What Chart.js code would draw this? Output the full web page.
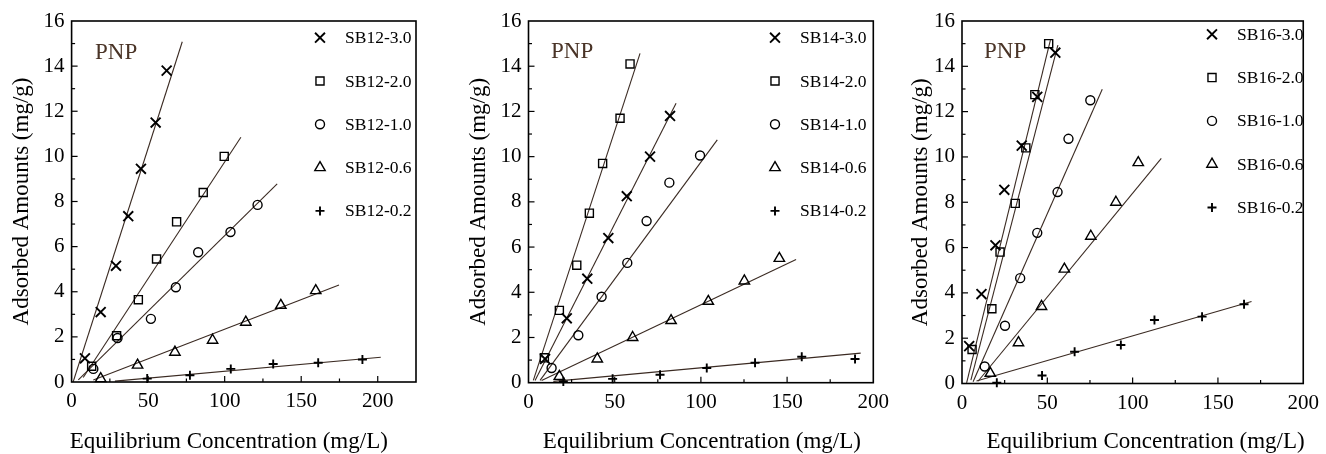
<!DOCTYPE html>
<html><head><meta charset="utf-8">
<script src="https://cdn.jsdelivr.net/npm/chart.js@4.4.1/dist/chart.umd.min.js"></script>
<style>
html,body{margin:0;padding:0;background:#fff;width:1326px;height:454px;overflow:hidden}
canvas{position:absolute;top:0}
</style></head><body>
<canvas id="c1" width="450" height="454" style="left:0px"></canvas>
<canvas id="c2" width="450" height="454" style="left:450px"></canvas>
<canvas id="c3" width="426" height="454" style="left:900px"></canvas>
<script>
// ---------- tick labels ----------
const xTicks = [0, 50, 100, 150, 200];
const yTicks = [0, 2, 4, 6, 8, 10, 12, 14, 16];
const xTitle = 'Equilibrium Concentration (mg/L)';
const yTitle = 'Adsorbed Amounts (mg/g)';
const tag = 'PNP';

// ---------- panel 1 (SB12) ----------
const SB12_labels = ['SB12-3.0', 'SB12-2.0', 'SB12-1.0', 'SB12-0.6', 'SB12-0.2'];
const SB12_30_x = [8.7, 19.0, 29.0, 37.0, 45.3, 54.9, 62.1];
const SB12_30_y = [1.05, 3.1, 5.15, 7.35, 9.45, 11.5, 13.8];
const SB12_20_x = [13.1, 29.4, 43.6, 55.5, 68.6, 86.0, 99.7];
const SB12_20_y = [0.7, 2.05, 3.65, 5.45, 7.1, 8.4, 10.0];
const SB12_10_x = [14.2, 30.0, 51.8, 68.1, 82.7, 103.8, 121.5];
const SB12_10_y = [0.58, 1.95, 2.8, 4.2, 5.75, 6.65, 7.85];
const SB12_06_x = [19.0, 43.1, 67.5, 92.1, 113.8, 136.7, 159.5];
const SB12_06_y = [0.15, 0.75, 1.32, 1.85, 2.65, 3.4, 4.05];
const SB12_02_x = [49.4, 77.3, 104.0, 131.7, 161.1, 190.0];
const SB12_02_y = [0.15, 0.3, 0.58, 0.8, 0.85, 1.0];
// fitted lines (end points)
const L12_30_x = [1.0, 72.3],   L12_30_y = [0.0, 15.08];
const L12_20_x = [7.6, 110.6],  L12_20_y = [0.2, 10.85];
const L12_10_x = [4.4, 134.3],  L12_10_y = [0.09, 8.78];
const L12_06_x = [14.2, 174.7], L12_06_y = [0.09, 4.3];
const L12_02_x = [28.3, 202.0], L12_02_y = [0.04, 1.1];

// ---------- panel 2 (SB14) ----------
const SB14_labels = ['SB14-3.0', 'SB14-2.0', 'SB14-1.0', 'SB14-0.6', 'SB14-0.2'];
const SB14_30_x = [9.6, 22.2, 34.1, 46.3, 57.0, 70.5, 82.1];
const SB14_30_y = [1.05, 2.85, 4.6, 6.4, 8.25, 10.0, 11.8];
const SB14_20_x = [9.2, 17.9, 28.0, 35.3, 43.0, 53.1, 58.9];
const SB14_20_y = [1.1, 3.2, 5.2, 7.5, 9.7, 11.7, 14.1];
const SB14_10_x = [13.4, 28.9, 42.4, 57.3, 68.5, 81.7, 99.5];
const SB14_10_y = [0.65, 2.1, 3.8, 5.3, 7.15, 8.85, 10.05];
const SB14_06_x = [17.9, 39.9, 60.4, 82.7, 104.3, 125.2, 145.5];
const SB14_06_y = [0.28, 1.05, 2.0, 2.75, 3.6, 4.5, 5.5];
const SB14_02_x = [20.2, 48.8, 76.3, 103.4, 131.4, 158.5, 189.4];
const SB14_02_y = [0.05, 0.17, 0.35, 0.65, 0.88, 1.15, 1.05];
const L14_30_x = [3.8, 85.6],   L14_30_y = [0.1, 12.36];
const L14_20_x = [2.8, 64.7],   L14_20_y = [0.1, 14.57];
const L14_10_x = [6.7, 109.5],  L14_10_y = [0.1, 10.74];
const L14_06_x = [7.6, 155.2],  L14_06_y = [0.1, 5.45];
const L14_02_x = [14.4, 192.7], L14_02_y = [0.06, 1.31];

// ---------- panel 3 (SB16) ----------
const SB16_labels = ['SB16-3.0', 'SB16-2.0', 'SB16-1.0', 'SB16-0.6', 'SB16-0.2'];
const SB16_30_x = [4.2, 11.4, 19.6, 24.8, 35.0, 44.1, 54.7];
const SB16_30_y = [1.65, 3.95, 6.1, 8.55, 10.5, 12.65, 14.6];
const SB16_20_x = [5.9, 17.5, 22.3, 31.2, 37.4, 42.7, 50.8];
const SB16_20_y = [1.5, 3.3, 5.8, 7.95, 10.4, 12.75, 15.0];
const SB16_10_x = [13.3, 25.2, 34.1, 44.1, 56.0, 62.4, 75.2];
const SB16_10_y = [0.75, 2.55, 4.65, 6.65, 8.45, 10.8, 12.5];
const SB16_06_x = [16.6, 33.1, 46.6, 60.0, 75.5, 90.2, 103.3];
const SB16_06_y = [0.45, 1.8, 3.4, 5.05, 6.5, 8.0, 9.75];
const SB16_02_x = [20.4, 46.9, 66.0, 93.1, 112.8, 140.7, 165.3];
const SB16_02_y = [0.03, 0.35, 1.4, 1.7, 2.8, 2.95, 3.5];
const L16_30_x = [5.2, 56.2],   L16_30_y = [0.15, 14.94];
const L16_20_x = [2.7, 51.8],   L16_20_y = [0.03, 15.16];
const L16_10_x = [6.5, 82.2],   L16_10_y = [0.08, 12.99];
const L16_06_x = [9.4, 116.8],  L16_06_y = [0.1, 9.94];
const L16_02_x = [8.5, 169.7],  L16_02_y = [0.11, 3.62];

// ---------- styling ----------
const FONT = "'Liberation Serif', 'Times New Roman', Times, serif";
const LINE_COLOR = '#3a2a22';
const MARKERS = [
  {pointStyle: 'crossRot', radius: 7,   borderWidth: 1.9},
  {pointStyle: 'rect',     radius: 5.7, borderWidth: 1.4},
  {pointStyle: 'circle',   radius: 4.5, borderWidth: 1.4},
  {pointStyle: 'triangle', radius: 6,   borderWidth: 1.4},
  {pointStyle: 'cross',    radius: 4.5, borderWidth: 1.9}
];

const zip = (xs, ys) => xs.map((v, i) => ({x: v, y: ys[i]}));

const panels = [
  {id: 'c1', xMax: 225, labels: SB12_labels,
   series: [[SB12_30_x, SB12_30_y], [SB12_20_x, SB12_20_y], [SB12_10_x, SB12_10_y], [SB12_06_x, SB12_06_y], [SB12_02_x, SB12_02_y]],
   lines: [[L12_30_x, L12_30_y], [L12_20_x, L12_20_y], [L12_10_x, L12_10_y], [L12_06_x, L12_06_y], [L12_02_x, L12_02_y]],
   lay: {yW: 71.6, R: 34, xH: 72, titlePad: 8, xShift: -15, legDx: 248.4, legY0: 37.7, pnpDx: 23.4, pnpY: 59}},
  {id: 'c2', xMax: 200, labels: SB14_labels,
   series: [[SB14_30_x, SB14_30_y], [SB14_20_x, SB14_20_y], [SB14_10_x, SB14_10_y], [SB14_06_x, SB14_06_y], [SB14_02_x, SB14_02_y]],
   lines: [[L14_30_x, L14_30_y], [L14_20_x, L14_20_y], [L14_10_x, L14_10_y], [L14_06_x, L14_06_y], [L14_02_x, L14_02_y]],
   lay: {yW: 78.5, R: 26.7, xH: 71.3, titlePad: 15, xShift: 1, legDx: 246.5, legY0: 37.7, pnpDx: 22.5, pnpY: 58}},
  {id: 'c3', xMax: 200, labels: SB16_labels,
   series: [[SB16_30_x, SB16_30_y], [SB16_20_x, SB16_20_y], [SB16_10_x, SB16_10_y], [SB16_06_x, SB16_06_y], [SB16_02_x, SB16_02_y]],
   lines: [[L16_30_x, L16_30_y], [L16_20_x, L16_20_y], [L16_10_x, L16_10_y], [L16_06_x, L16_06_y], [L16_02_x, L16_02_y]],
   lay: {yW: 62, R: 18, xH: 70.5, titlePad: 7, xShift: 13, legDx: 250, legY0: 34.3, pnpDx: 22, pnpY: 57.7}}
];

function drawMarker(ctx, m, x, y) {
  ctx.save();
  ctx.strokeStyle = '#000';
  ctx.fillStyle = 'rgba(0,0,0,0)';
  ctx.lineWidth = m.borderWidth;
  if (Chart.helpers && Chart.helpers.drawPoint) {
    Chart.helpers.drawPoint(ctx, {pointStyle: m.pointStyle, radius: m.radius, rotation: 0, borderWidth: m.borderWidth}, x, y);
  } else {
    ctx.beginPath(); ctx.arc(x, y, m.radius, 0, Math.PI * 2); ctx.stroke();
  }
  ctx.restore();
}

const framePlugin = {
  id: 'frame',
  afterDraw(chart) {
    const p = chart.config.options.plugins.frame;
    const {ctx, chartArea: a, scales: {x, y}} = chart;
    ctx.save();
    ctx.strokeStyle = '#000';
    ctx.lineWidth = 1.6;
    ctx.strokeRect(a.left, a.top, a.right - a.left, a.bottom - a.top);
    ctx.lineWidth = 1.2;
    // x ticks (inward): major every 50, minor every 25
    for (let v = 25; v < x.max - 0.5; v += 25) {
      const px = x.getPixelForValue(v);
      const len = (v % 50 === 0) ? 6 : 3.5;
      ctx.beginPath(); ctx.moveTo(px, a.bottom); ctx.lineTo(px, a.bottom - len); ctx.stroke();
    }
    // y ticks (inward): major every 2, minor every 1
    for (let v = 1; v < y.max; v += 1) {
      const py = y.getPixelForValue(v);
      const len = (v % 2 === 0) ? 6 : 3.5;
      ctx.beginPath(); ctx.moveTo(a.left, py); ctx.lineTo(a.left + len, py); ctx.stroke();
    }
    // PNP tag
    ctx.fillStyle = '#4a3427';
    ctx.font = '23px ' + FONT;
    ctx.textAlign = 'left';
    ctx.textBaseline = 'alphabetic';
    ctx.fillText(tag, a.left + p.pnpDx, p.pnpY);
    // legend
    ctx.font = '17.5px ' + FONT;
    ctx.fillStyle = '#000';
    ctx.textBaseline = 'middle';
    p.labels.forEach((lab, i) => {
      const ly = p.legY0 + i * 43.3;
      const mx = a.left + p.legDx;
      drawMarker(ctx, MARKERS[i], mx, ly);
      ctx.fillText(lab, mx + 25, ly + 1);
    });
    // x title
    ctx.font = '23px ' + FONT;
    ctx.textAlign = 'center';
    ctx.textBaseline = 'alphabetic';
    ctx.fillText(xTitle, (a.left + a.right) / 2 + p.xShift, 448);
    ctx.restore();
  }
};

panels.forEach(pn => {
  const datasets = [];
  pn.lines.forEach(([lx, ly]) => {
    datasets.push({type: 'scatter', data: zip(lx, ly), showLine: true, borderColor: LINE_COLOR,
      borderWidth: 1.1, pointRadius: 0, fill: false, order: 2});
  });
  pn.series.forEach(([sx, sy], i) => {
    const m = MARKERS[i];
    datasets.push({type: 'scatter', label: pn.labels[i], data: zip(sx, sy), showLine: false,
      pointStyle: m.pointStyle, pointRadius: m.radius, pointBorderWidth: m.borderWidth,
      pointBorderColor: '#000', pointBackgroundColor: 'rgba(0,0,0,0)', order: 1, clip: 8});
  });
  const L = pn.lay;
  new Chart(document.getElementById(pn.id), {
    type: 'scatter',
    data: {datasets},
    options: {
      responsive: false, animation: false, devicePixelRatio: 1,
      layout: {padding: {left: 0, right: L.R, top: 21, bottom: 0}},
      plugins: {
        legend: {display: false}, tooltip: {enabled: false},
        frame: {labels: pn.labels, legDx: L.legDx, legY0: L.legY0, pnpDx: L.pnpDx, pnpY: L.pnpY, xShift: L.xShift}
      },
      scales: {
        x: {type: 'linear', min: 0, max: pn.xMax,
          grid: {display: false, drawTicks: false}, border: {display: false},
          afterBuildTicks: s => { s.ticks = xTicks.map(v => ({value: v})); },
          afterFit: s => { s.height = L.xH; },
          ticks: {color: '#000', font: {family: FONT, size: 21}, padding: 7, maxRotation: 0, autoSkip: false}
        },
        y: {type: 'linear', min: 0, max: 16,
          grid: {display: false, drawTicks: false}, border: {display: false},
          afterBuildTicks: s => { s.ticks = yTicks.map(v => ({value: v})); },
          afterFit: s => { s.width = L.yW; },
          ticks: {color: '#000', font: {family: FONT, size: 21}, padding: 7, autoSkip: false},
          title: {display: true, text: yTitle, color: '#000', font: {family: FONT, size: 23}, padding: {top: L.titlePad, bottom: 0}}
        }
      }
    },
    plugins: [framePlugin]
  });
});
</script>
</body></html>
